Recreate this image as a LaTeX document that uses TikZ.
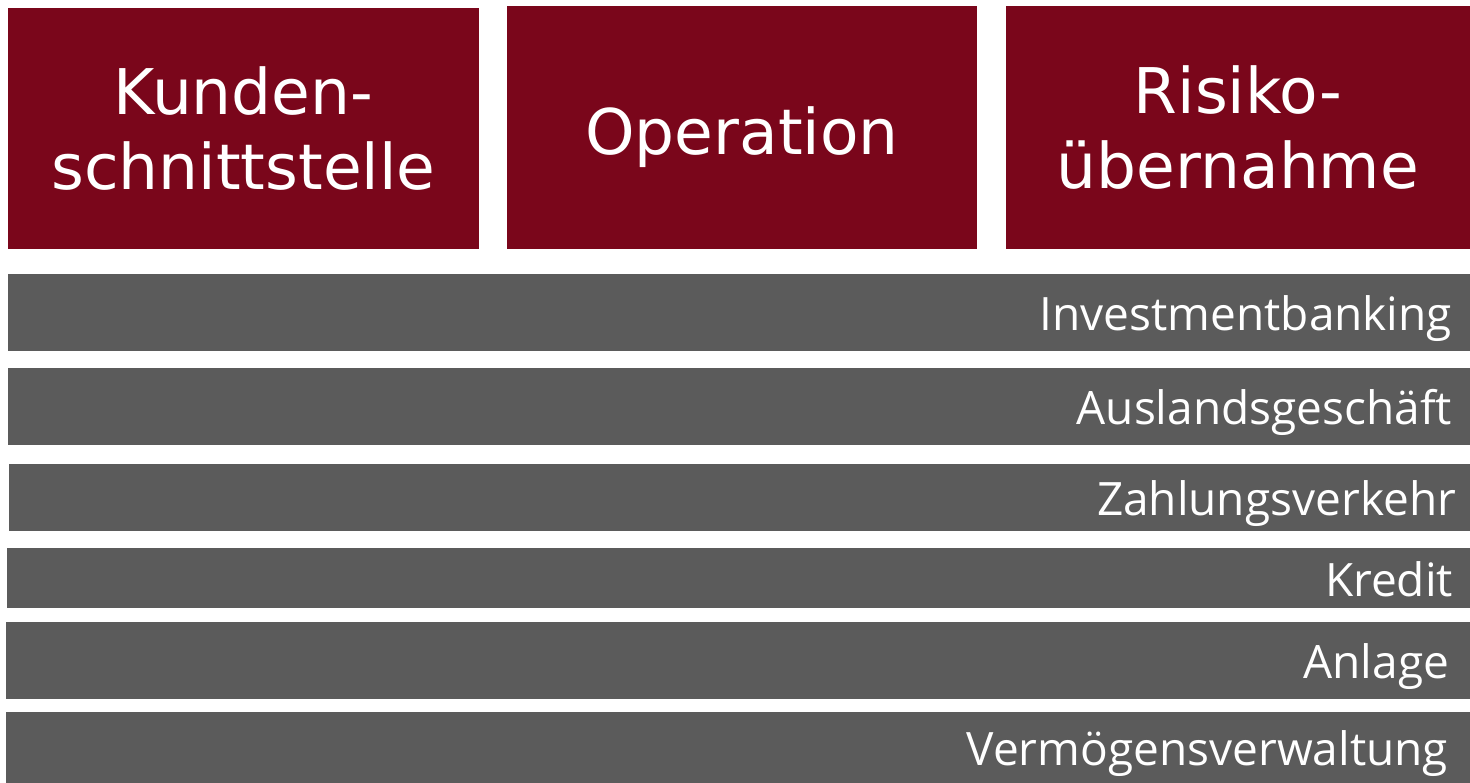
\documentclass[tikz,border=0pt]{standalone}
\usepackage{fontspec}
\setmainfont{DejaVu Sans}
\newfontfamily\barfont{Open Sans}
\usetikzlibrary{positioning}
\definecolor{bankred}{HTML}{7A061B}
\definecolor{bankgrey}{HTML}{5B5B5B}
\begin{document}
\begin{tikzpicture}[x=1pt, y=-1pt]
        \useasboundingbox (0, 0) rectangle (1470, 783);
        \begin{scope}[every node/.style={fill=bankred, text=white, inner sep=0pt, align=center, font=\fontsize{63}{75}\selectfont}]
            \node [minimum width=471pt, minimum height=241pt] (kunde) at (243.5, 128.5) {Kunden-\\schnittstelle};
            \node [minimum width=470pt, minimum height=243pt, text height=54pt, text depth=0pt] (oper) at (742, 127.5) {Operation};
            \node [minimum width=464pt, minimum height=243pt] (risiko) at (1238, 127.5) {Risiko-\\übernahme};
        \end{scope}
        \begin{scope}[every node/.style={fill=bankgrey, inner sep=0pt}]
            \node [minimum width=1462pt, minimum height=77pt] (b1) at (739, 312.5) {};
            \node [minimum width=1462pt, minimum height=77pt] (b2) at (739, 406.5) {};
            \node [minimum width=1461pt, minimum height=67pt] (b3) at (739.5, 497.5) {};
            \node [minimum width=1463pt, minimum height=60pt] (b4) at (738.5, 578) {};
            \node [minimum width=1464pt, minimum height=77pt] (b5) at (738, 660.5) {};
            \node [minimum width=1464pt, minimum height=71pt] (b6) at (738, 747.5) {};
        \end{scope}
        \begin{scope}[every node/.style={text=white, inner sep=0pt, text height=36pt, text depth=0pt, font=\barfont\fontsize{46}{50}\selectfont}]
            \node [left=18pt of b1.east] (l1) {Investmentbanking};
            \node [left=18pt of b2.east] (l2) {Auslandsgeschäft};
            \node [left=14pt of b3.east] (l3) {Zahlungsverkehr};
            \node [left=17pt of b4.east] (l4) {Kredit};
            \node [left=21pt of b5.east] (l5) {Anlage};
            \node [left=22pt of b6.east] (l6) {Vermögensverwaltung};
        \end{scope}
    \end{tikzpicture}
\end{document}
